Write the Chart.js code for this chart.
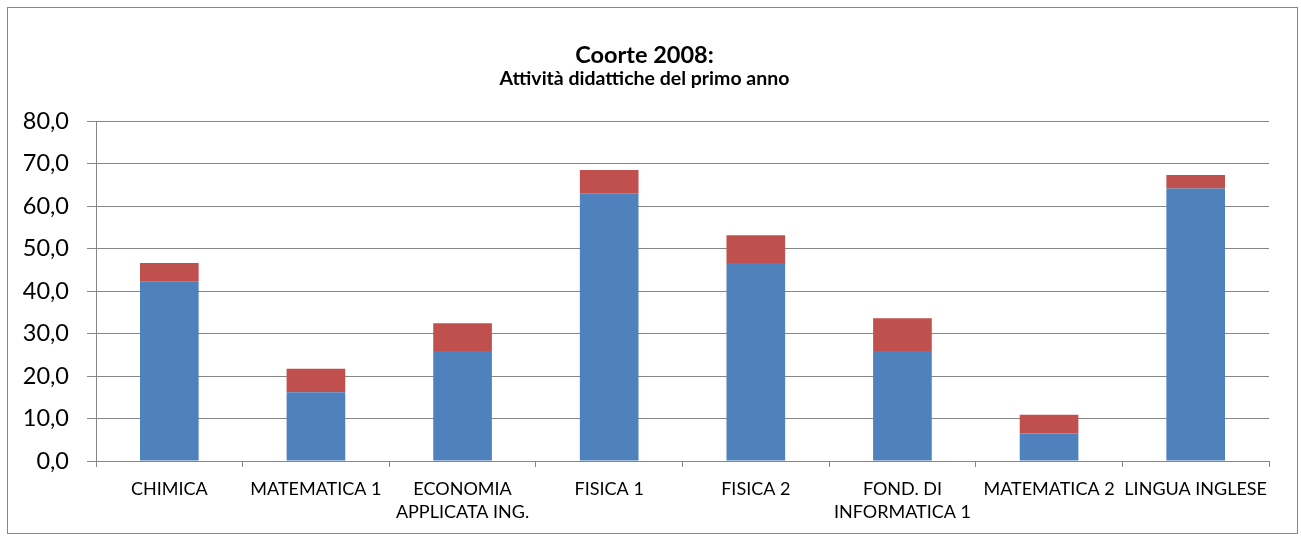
<!DOCTYPE html>
<html>
<head>
<meta charset="utf-8">
<script src="https://cdn.jsdelivr.net/npm/chart.js@4/dist/chart.umd.min.js"></script>
<style>
  html, body { margin: 0; padding: 0; background: #fff; }
  #wrap { position: relative; width: 1301px; height: 540px; }
  #frame {
    position: absolute; left: 7px; top: 7px; width: 1289px; height: 525px;
    border: 1px solid #868686; pointer-events: none;
  }
</style>
</head>
<body>
<div id="wrap">
  <canvas id="chart" width="1301" height="540"></canvas>
  <div id="frame"></div>
</div>
<script>
// ─── Dati ─────────────────────────────────────────
const categories = [
  'CHIMICA',
  'MATEMATICA 1',
  ['ECONOMIA', 'APPLICATA ING.'],
  'FISICA 1',
  'FISICA 2',
  ['FOND. DI', 'INFORMATICA 1'],
  'MATEMATICA 2',
  'LINGUA INGLESE',
];

// parte inferiore (blu) e parte superiore (rossa) di ogni colonna
const seriesBlue = [42.2, 16.2, 25.9, 63.0, 46.6, 25.9, 6.5, 64.1];
const seriesRed  = [4.4, 5.5, 6.5, 5.5, 6.5, 7.7, 4.4, 3.2];

const yTicks = { min: 0, max: 80, step: 10 };

const FONT = 'Lato, "Open Sans", sans-serif';
const GRID = '#868686';

new Chart(document.getElementById('chart'), {
  type: 'bar',
  data: {
    labels: categories,
    datasets: [
      {
        label: 'blu',
        data: seriesBlue,
        backgroundColor: '#4F81BD',
        categoryPercentage: 1,
        barPercentage: 0.4,
      },
      {
        label: 'rosso',
        data: seriesRed,
        backgroundColor: '#C0504D',
        categoryPercentage: 1,
        barPercentage: 0.4,
      },
    ],
  },
  options: {
    responsive: false,
    animation: false,
    layout: { padding: { left: 20, right: 32, top: 0, bottom: 0 } },
    plugins: {
      legend: { display: false },
      tooltip: { enabled: false },
      title: {
        display: true,
        text: 'Coorte 2008:',
        color: '#000',
        font: { family: FONT, size: 23.5, weight: 'bold', lineHeight: 1 },
        padding: { top: 44, bottom: 1 },
      },
      subtitle: {
        display: true,
        text: 'Attività didattiche del primo anno',
        color: '#000',
        font: { family: FONT, size: 19.5, weight: 'bold', lineHeight: 1 },
        padding: { top: 0, bottom: 33 },
      },
    },
    scales: {
      x: {
        stacked: true,
        afterFit: s => { s.height = 79; },
        grid: {
          offset: true,
          drawOnChartArea: false,
          drawTicks: true,
          tickLength: 6,
          color: GRID,
        },
        border: { color: GRID, width: 1 },
        ticks: {
          color: '#000',
          autoSkip: false,
          maxRotation: 0,
          minRotation: 0,
          padding: 10,
          font: { family: FONT, size: 18, lineHeight: 1.3 },
        },
      },
      y: {
        stacked: true,
        min: yTicks.min,
        max: yTicks.max,
        afterFit: s => { s.width = 76; },
        grid: { color: GRID, tickLength: 9, lineWidth: 1 },
        border: { color: GRID, width: 1 },
        ticks: {
          stepSize: yTicks.step,
          color: '#000',
          padding: 18,
          font: { family: FONT, size: 23.5 },
          callback: v => v.toFixed(1).replace('.', ','),
        },
      },
    },
  },
});
</script>
</body>
</html>
